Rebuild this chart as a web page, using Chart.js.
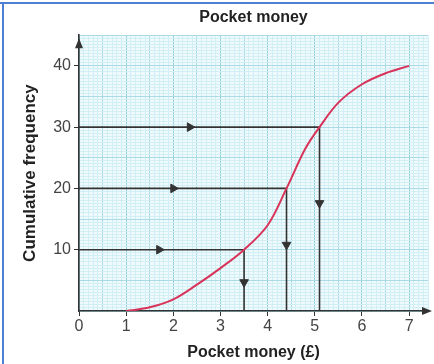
<!DOCTYPE html>
<html>
<head>
<meta charset="utf-8">
<script src="https://cdn.jsdelivr.net/npm/chart.js@4"></script>
<style>
  body { margin: 0; background: #fff; }
  #wrap { position: relative; width: 434px; height: 364px; }
</style>
</head>
<body>
<div id="wrap"><canvas id="cfChart" width="434" height="364"></canvas></div>
<script>
// cumulative frequency curve
const moneyX = [1, 1.5, 2, 2.5, 3, 3.5, 4, 4.4, 4.8, 5.1, 5.5, 6, 6.5, 7];
const cumFreq = [0, 0.6, 1.9, 4.3, 7, 10, 14, 20, 26.5, 30, 34, 37, 38.8, 40];

// read-off lines (lower quartile, median, upper quartile)
const readLevels = [10, 20, 30];
const readValues = [3.5, 4.4, 5.1];

// where the arrowheads sit on those lines
const hArrowX = [1.7, 2.0, 2.35];
const vArrowY = [4.7, 10.8, 17.6];

const xTickLabels = [0, 1, 2, 3, 4, 5, 6, 7];
const yTickLabels = [10, 20, 30, 40];

const INK = "#333";
const CURVE = "#d8345a";
const GRID_MINOR = "#d2eff5";
const GRID_MID = "#a9dae5";
const GRID_MAJOR = "#93cfdc";

const FONT = "'Liberation Sans', Arial, sans-serif";

/* ===============================
   datasets
=============================== */

const datasets = [];

readLevels.forEach((level, i) => {
    datasets.push({
        type: "line",
        data: [
            { x: 0, y: level },
            { x: readValues[i], y: level },
            { x: readValues[i], y: 0 }
        ],
        borderColor: INK,
        borderWidth: 1.6,
        pointRadius: 0,
        tension: 0,
        order: 2
    });
});

datasets.push({
    type: "scatter",
    data: hArrowX.map((x, i) => ({ x: x, y: readLevels[i] })),
    pointStyle: "triangle",
    rotation: 90,
    pointRadius: 5,
    backgroundColor: INK,
    borderColor: INK,
    borderWidth: 1,
    order: 1
});

datasets.push({
    type: "scatter",
    data: vArrowY.map((y, i) => ({ x: readValues[i], y: y })),
    pointStyle: "triangle",
    rotation: 180,
    pointRadius: 5,
    backgroundColor: INK,
    borderColor: INK,
    borderWidth: 1,
    order: 1
});

datasets.push({
    type: "line",
    data: moneyX.map((x, i) => ({ x: x, y: cumFreq[i] })),
    borderColor: CURVE,
    borderWidth: 2,
    pointRadius: 0,
    tension: 0.35,
    order: 0
});

/* ===============================
   graph paper + axis arrows + frame
=============================== */

const paperPlugin = {
    id: "paper",
    beforeDraw(chart) {
        const { ctx, chartArea: a } = chart;
        ctx.save();
        ctx.fillStyle = "#effafd";
        ctx.fillRect(a.left, a.top, a.right - a.left, a.bottom - a.top);
        ctx.restore();
    },
    afterDraw(chart) {
        const { ctx, chartArea: a } = chart;
        ctx.save();
        ctx.fillStyle = INK;
        // y axis arrow
        ctx.beginPath();
        ctx.moveTo(a.left, a.top + 3);
        ctx.lineTo(a.left - 4, a.top + 13);
        ctx.lineTo(a.left + 4, a.top + 13);
        ctx.closePath();
        ctx.fill();
        // x axis arrow
        ctx.beginPath();
        ctx.moveTo(a.right + 4, a.bottom);
        ctx.lineTo(a.right - 6, a.bottom - 4);
        ctx.lineTo(a.right - 6, a.bottom + 4);
        ctx.closePath();
        ctx.fill();
        // blue frame, top and left only
        ctx.fillStyle = "#4f7fd3";
        ctx.fillRect(0, 2, chart.width, 2);
        ctx.fillRect(2, 2, 2, chart.height - 2);
        ctx.restore();
    }
};

function isWhole(v) {
    return Math.abs(v - Math.round(v)) < 1e-6;
}

new Chart(document.getElementById("cfChart"), {
    data: { datasets: datasets },
    options: {
        responsive: false,
        animation: false,
        layout: { padding: { top: 0, right: 5, bottom: 0, left: 0 } },
        plugins: {
            legend: { display: false },
            tooltip: { enabled: false },
            title: {
                display: true,
                text: "Pocket money",
                fullSize: false,
                color: "#222",
                font: { family: FONT, size: 16, weight: "bold" },
                padding: { top: 8, bottom: 8 }
            }
        },
        scales: {
            x: {
                type: "linear",
                min: 0,
                max: 7.4,
                afterFit(s) { s.height = 53; },
                border: { color: INK, width: 1.6 },
                grid: {
                    color: (c) => {
                        const v = Math.round(c.tick.value * 10);
                        if (v % 10 === 0) return GRID_MAJOR;
                        if (v % 5 === 0) return GRID_MID;
                        return GRID_MINOR;
                    },
                    lineWidth: 1,
                    tickLength: 5,
                    tickColor: (c) => xTickLabels.includes(Math.round(c.tick.value * 10) / 10) ? INK : "rgba(0,0,0,0)"
                },
                ticks: {
                    stepSize: 0.1,
                    autoSkip: false,
                    maxRotation: 0,
                    padding: 1,
                    color: "#444",
                    font: { family: FONT, size: 16 },
                    callback: (v) => (isWhole(v) && xTickLabels.includes(Math.round(v))) ? String(Math.round(v)) : ""
                },
                title: {
                    display: true,
                    text: "Pocket money (£)",
                    color: "#222",
                    font: { family: FONT, size: 16, weight: "bold" },
                    padding: { top: 0, bottom: 2 }
                }
            },
            y: {
                type: "linear",
                min: 0,
                max: 45,
                afterFit(s) { s.width = 79; },
                border: { color: INK, width: 1.6 },
                grid: {
                    color: (c) => {
                        const v = Math.round(c.tick.value * 2);
                        if (v % 10 === 0) return GRID_MID;
                        return GRID_MINOR;
                    },
                    lineWidth: 1,
                    tickLength: 5,
                    tickColor: (c) => yTickLabels.includes(Math.round(c.tick.value * 2) / 2) ? INK : "rgba(0,0,0,0)"
                },
                ticks: {
                    stepSize: 0.5,
                    autoSkip: false,
                    padding: 3,
                    color: "#444",
                    font: { family: FONT, size: 16 },
                    callback: (v) => (isWhole(v) && yTickLabels.includes(Math.round(v))) ? String(Math.round(v)) : ""
                },
                title: {
                    display: true,
                    text: "Cumulative frequency",
                    color: "#222",
                    font: { family: FONT, size: 17, weight: "bold" },
                    padding: { top: 20, bottom: 0 }
                }
            }
        }
    },
    plugins: [paperPlugin]
});
</script>
</body>
</html>
